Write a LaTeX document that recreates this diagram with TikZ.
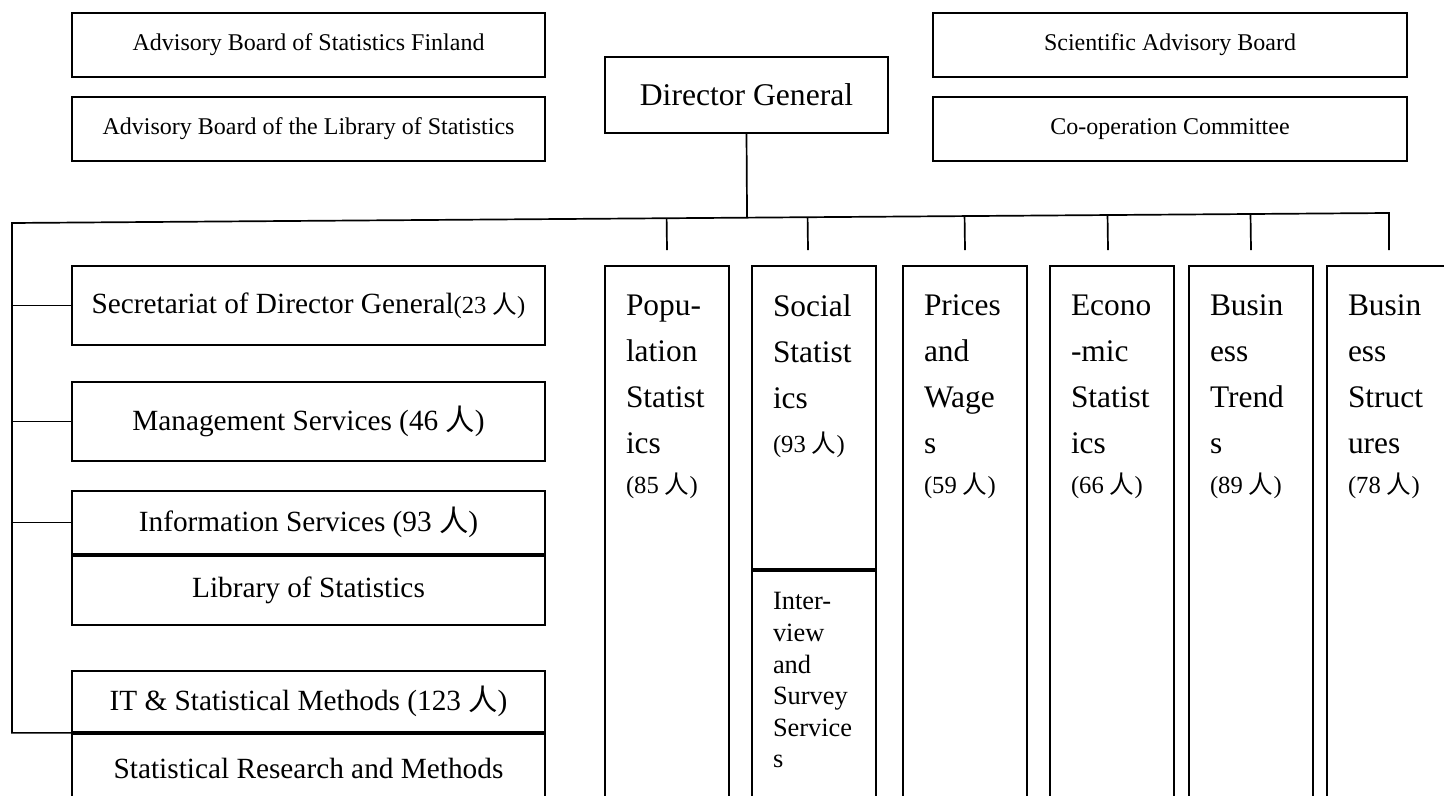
\documentclass[tikz,border=0pt]{standalone}
\usepackage{fontspec}
\setmainfont{Liberation Serif}
\newfontfamily\cjk{Noto Sans CJK SC}
\usepackage{tikz}
\usetikzlibrary{positioning,calc}
\newcommand{\ren}{{\cjk 人}}
\newcommand{\cnt}[1]{{\fontsize{12.3}{14}\selectfont #1}}

\begin{document}
\begin{tikzpicture}[x=0.5pt,y=-0.5pt,
    every node/.style = {inner sep=0pt, line width=0.85pt},
    board/.style = {draw, minimum width=236.5pt, minimum height=32pt, font=\fontsize{12}{14}\selectfont},
    unit/.style = {draw, minimum width=236.5pt, font=\fontsize{14.65}{17}\selectfont},
    dept/.style = {draw, minimum width=62pt},
    depttext/.style = {anchor=north west, align=left, font=\fontsize{15.7}{23}\selectfont},
    line width=0.85pt
    ]
    \useasboundingbox (0,0) rectangle (1444,796);
    \clip (0,0) rectangle (1444,796);
    \node[board] (advfin) at (308.5,45) {Advisory Board of Statistics Finland};
    \node[board] (advlib) at (308.5,129) {Advisory Board of the Library of Statistics};
    \node[board, minimum width=237pt] (sab) at (1170,45) {Scientific Advisory Board};
    \node[board, minimum width=237pt] (coop) at (1170,129) {Co-operation Committee};
    \node[draw, minimum width=141.5pt, minimum height=38pt, font=\fontsize{15.8}{18}\selectfont] (dg) at (746.5,95) {Director General};

    \node[unit, minimum height=39.5pt] (sec) at (308.5,305.5) {Secretariat of Director General\cnt{(23 \ren)}};
    \node[unit, minimum height=39.5pt] (mgmt) at (308.5,421.5) {Management Services (46 \ren)};
    \node[unit, minimum height=31.5pt] (info) at (308.5,522.5) {Information Services (93 \ren)};
    \node[unit, minimum height=34.5pt, below=0pt of info] (lib) {Library of Statistics};
    \node[unit, minimum height=30.5pt] (itm) at (308.5,701.5) {IT \& Statistical Methods (123 \ren)};
    \node[unit, minimum height=35pt, below=0pt of itm] (srm) {Statistical Research and Methods};

    \node[dept, minimum height=272pt] (pop) at (667,538) {};
    \node[dept, minimum height=151.5pt] (soc) at (814,417.5) {};
    \node[dept, minimum height=120.5pt, below=0pt of soc] (intv) {};
    \node[dept, minimum height=272pt] (pri) at (965,538) {};
    \node[dept, minimum height=272pt] (eco) at (1112,538) {};
    \node[dept, minimum height=272pt] (btr) at (1251,538) {};
    \node[dept, minimum height=272pt] (bst) at (1389,538) {};

    \node[depttext] (poptext) at ($(pop.north west)+(21,29)$) {Popu-\\lation\\Statist\\ics\\[-3pt]\cnt{(85 \ren)}};
    \node[depttext] (soctext) at ($(soc.north west)+(21,29)$) {Social\\Statist\\ics\\[-1pt]\cnt{(93 \ren)}};
    \node[depttext, font=\fontsize{13.2}{15.8}\selectfont] (intvtext) at ($(intv.north west)+(21,22)$) {Inter-\\view\\and\\Survey\\Service\\s};
    \node[depttext] (pritext) at ($(pri.north west)+(21,29)$) {Prices\\and\\Wage\\s\\[-3pt]\cnt{(59 \ren)}};
    \node[depttext] (ecotext) at ($(eco.north west)+(21,29)$) {Econo\\-mic\\Statist\\ics\\[-3pt]\cnt{(66 \ren)}};
    \node[depttext] (btrtext) at ($(btr.north west)+(21,29)$) {Busin\\ess\\Trend\\s\\[-3pt]\cnt{(89 \ren)}};
    \node[depttext] (bsttext) at ($(bst.north west)+(21,29)$) {Busin\\ess\\Struct\\ures\\[-3pt]\cnt{(78 \ren)}};

    \coordinate (busL) at (12,223);
    \coordinate (busR) at (1389,213);
    \draw ([yshift=7.5pt]bst.north) -- (busR) -- (busL) -- (busL |- itm.south) -- (itm.south west);
    \draw (dg.south) -- ($(busL)!(dg.south)!(busR)$);
    \foreach \c/\dx in {pop/0pt, soc/-3pt, pri/0pt, eco/-2pt, btr/0pt}
        \draw ($(busL)!([xshift=\dx]\c.north)!(busR)$) -- ([xshift=\dx, yshift=7.5pt]\c.north);
    \foreach \b in {sec, mgmt, info}
        \draw (busL |- \b.west) -- (\b.west);
\end{tikzpicture}
\end{document}
